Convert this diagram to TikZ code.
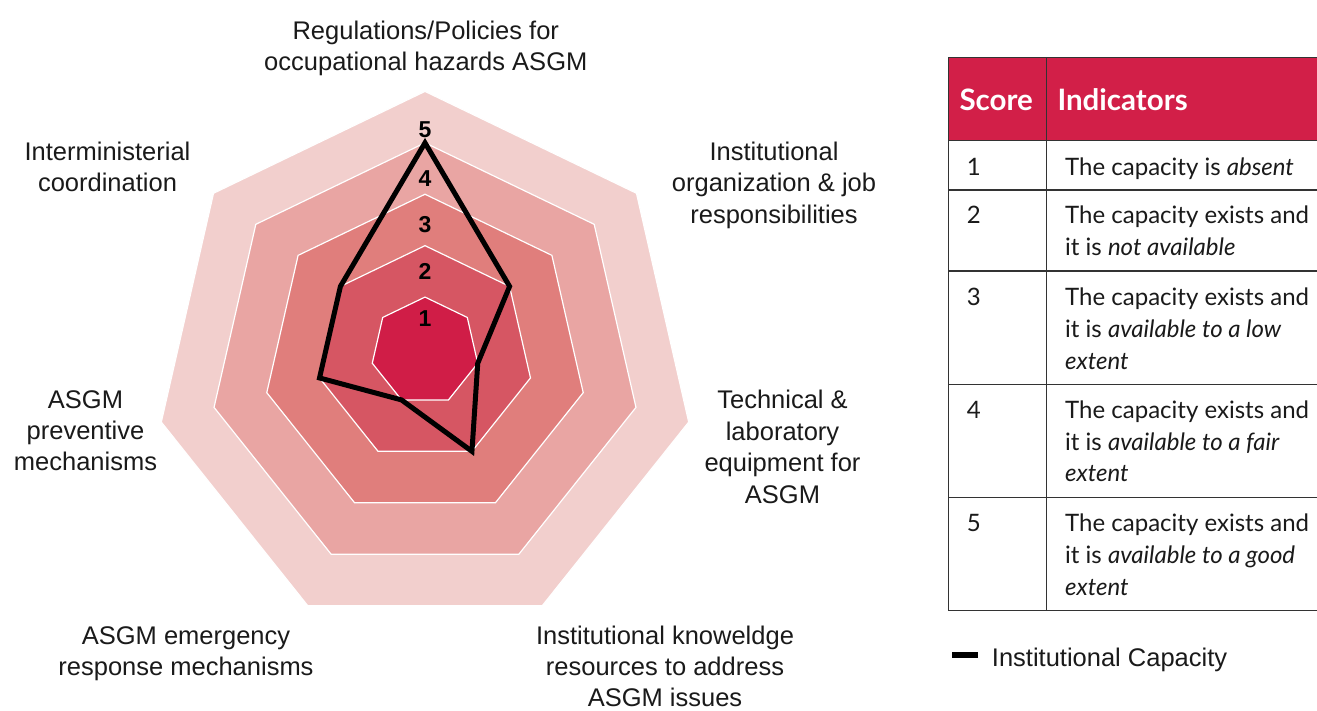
\documentclass[tikz,border=0pt]{standalone}
\usepackage{fontspec}
\setmainfont{Liberation Sans}
\newfontfamily\tabfont{Lato}
\definecolor{ringE}{HTML}{F2CFCD}
\definecolor{ringD}{HTML}{E9A5A3}
\definecolor{ringC}{HTML}{E07E7C}
\definecolor{ringB}{HTML}{D65663}
\definecolor{ringA}{HTML}{D01D47}
\definecolor{headred}{HTML}{D21F48}
\definecolor{txt}{HTML}{1A1A1A}
\definecolor{grid}{HTML}{333333}
\begin{document}
\begin{tikzpicture}[x=1bp,y=-1bp,
  lbl/.style={font=\fontsize{25.5bp}{31bp}\selectfont, anchor=base, inner sep=0pt, text=txt},
  scalenum/.style={font=\bfseries\fontsize{23bp}{26bp}\selectfont, anchor=center, inner sep=0pt, text=black},
  tabtxt/.style={font=\tabfont\fontsize{24bp}{30bp}\selectfont, anchor=base west, inner sep=0pt, text=txt},
  tabhead/.style={font=\tabfont\bfseries\fontsize{29.5bp}{32bp}\selectfont, anchor=base west, inner sep=0pt, text=white},
  gridline/.style={draw=grid, line width=1.2bp},
  ringedge/.style={draw=white, line width=1.2bp},
  dataline/.style={draw=black, line width=5bp, line join=miter}]
\useasboundingbox (0,0) rectangle (1317,710);
\fill[white] (0,0) rectangle (1317,710);

% rings
\foreach \k/\col in {5/ringE,4/ringD,3/ringC,2/ringB,1/ringA}{
  \pgfmathsetmacro\rr{54.1*\k}
  \pgfmathsetmacro\cy{348.5+2.68*\k}
  \foreach \j in {0,...,6}{
    \coordinate (p\k-\j) at ({425+\rr*cos(90-\j*360/7)},{\cy-\rr*sin(90-\j*360/7)});
  }
  \fill[fill=\col, ringedge] (p\k-0) -- (p\k-1) -- (p\k-2) -- (p\k-3) -- (p\k-4) -- (p\k-5) -- (p\k-6) -- cycle;
}

% data polygon
\draw[dataline] (p4-0) -- (p2-1) -- (p1-2) -- (p2-3) -- (p1-4) -- (p2-5) -- (p2-6) -- cycle;

% scale numbers
\node[scalenum] (s5) at (425,130) {5};
\node[scalenum] (s4) at (425,178.3) {4};
\node[scalenum] (s3) at (425,224.7) {3};
\node[scalenum] (s2) at (425,271) {2};
\node[scalenum] (s1) at (425,318.3) {1};

% axis labels
\node[lbl] (t1) at (425.8,40) {Regulations/Policies for};
\node[lbl] (t2) at (425.8,70.7) {occupational hazards ASGM};

\node[lbl] (ur1) at (774,160) {Institutional};
\node[lbl] (ur2) at (774,191.5) {organization \& job};
\node[lbl] (ur3) at (774,223) {responsibilities};

\node[lbl] (r1) at (782.5,408.3) {Technical \&};
\node[lbl] (r2) at (782.5,440) {laboratory};
\node[lbl] (r3) at (782.5,471.7) {equipment for};
\node[lbl] (r4) at (782.5,503.3) {ASGM};

\node[lbl] (br1) at (665,644.3) {Institutional knoweldge};
\node[lbl] (br2) at (665,675.5) {resources to address};
\node[lbl] (br3) at (665,706.7) {ASGM issues};

\node[lbl] (bl1) at (186,644.3) {ASGM emergency};
\node[lbl] (bl2) at (186,675.5) {response mechanisms};

\node[lbl] (l1) at (85.5,408.3) {ASGM};
\node[lbl] (l2) at (85.5,439.5) {preventive};
\node[lbl] (l3) at (85.5,470.5) {mechanisms};

\node[lbl] (ul1) at (107.5,160.6) {Interministerial};
\node[lbl] (ul2) at (107.5,191.7) {coordination};

% table
\fill[headred] (948.3,57.3) rectangle (1317,140.7);
\foreach \yy in {57.3,140.7,190,271,384.3,497.7,610.7}{
  \draw[gridline] (948.3,\yy) -- (1317,\yy);
}
\draw[gridline] (948.3,57.3) -- (948.3,610.7);
\draw[gridline] (1046.7,57.3) -- (1046.7,610.7);

\node[tabhead] (hs) at (959.3,111) {Score};
\node[tabhead] (hi) at (1057.3,111) {Indicators};

\node[tabtxt] (n1) at (966.7,175) {1};
\node[tabtxt] (a1) at (1065,175) {The capacity is \textit{absent}};

\node[tabtxt] (n2) at (966.7,223.5) {2};
\node[tabtxt] (a2) at (1065,223.5) {The capacity exists and};
\node[tabtxt] (b2) at (1065,255) {it is \textit{not available}};

\node[tabtxt] (n3) at (966.7,305) {3};
\node[tabtxt] (a3) at (1065,305) {The capacity exists and};
\node[tabtxt] (b3) at (1065,337) {it is \textit{available to a low}};
\node[tabtxt] (c3) at (1065,369) {\textit{extent}};

\node[tabtxt] (n4) at (966.7,418.3) {4};
\node[tabtxt] (a4) at (1065,418.3) {The capacity exists and};
\node[tabtxt] (b4) at (1065,450) {it is \textit{available to a fair}};
\node[tabtxt] (c4) at (1065,481.7) {\textit{extent}};

\node[tabtxt] (n5) at (966.7,531.7) {5};
\node[tabtxt] (a5) at (1065,531.7) {The capacity exists and};
\node[tabtxt] (b5) at (1065,563.3) {it is \textit{available to a good}};
\node[tabtxt] (c5) at (1065,595) {\textit{extent}};

% legend
\fill[black] (951.7,651.7) rectangle (978.3,658.3);
\node[lbl, anchor=base west] (leg) at (991.7,666) {Institutional Capacity};
\end{tikzpicture}
\end{document}
